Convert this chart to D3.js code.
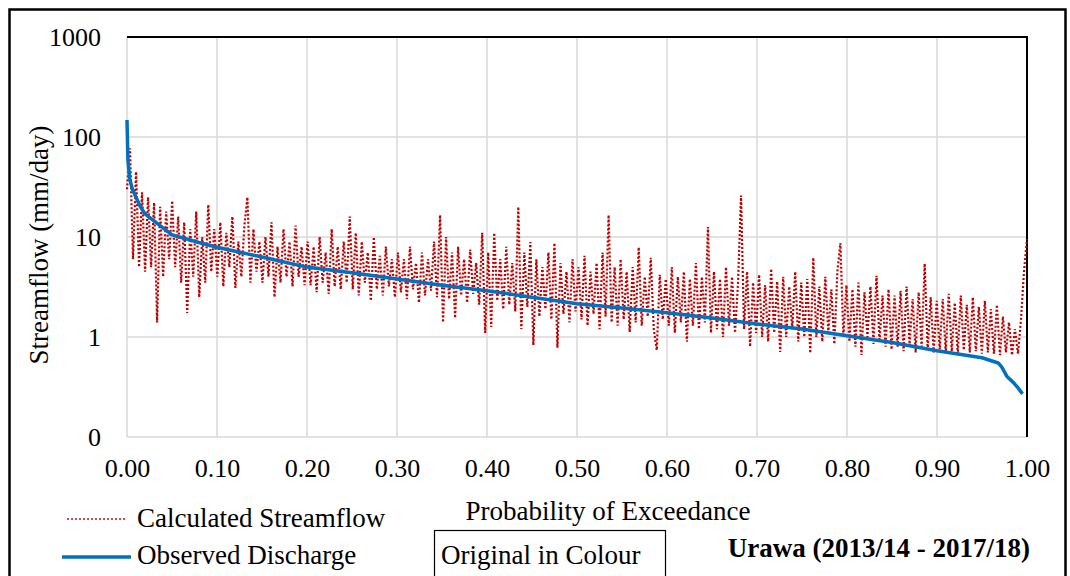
<!DOCTYPE html>
<html>
<head>
<meta charset="utf-8">
<script src="https://cdn.jsdelivr.net/npm/d3@7"></script>
<style>
  html, body { margin: 0; padding: 0; background: #fff; }
  svg text { font-family: "Liberation Serif", "DejaVu Serif", serif; fill: #000; }
</style>
</head>
<body>
<svg id="chart"></svg>
<script>
// Canvas size
const CANVAS_WIDTH = 1070;
const CANVAS_HEIGHT = 576;
const FONT = "Liberation Serif, DejaVu Serif, serif";

// Observed discharge (sorted flow duration curve), read at a few exceedance probabilities
const observedP = [0, 0.001, 0.003, 0.006, 0.01, 0.015, 0.02, 0.03, 0.05, 0.08, 0.1, 0.15, 0.2, 0.25,
  0.3, 0.35, 0.4, 0.45, 0.5, 0.55, 0.6, 0.65, 0.7, 0.75, 0.8, 0.85, 0.9, 0.95, 0.968, 0.972,
  0.978, 0.985, 0.99, 0.995];
const observedQ = [148, 60, 38, 30, 25, 20, 17, 14.5, 10.5, 8.8, 7.9, 6.3, 5.0, 4.4,
  3.8, 3.3, 2.9, 2.5, 2.15, 1.95, 1.75, 1.55, 1.35, 1.2, 1.03, 0.88, 0.73, 0.62, 0.55, 0.5,
  0.4, 0.35, 0.31, 0.27];

// Calculated streamflow, in the order of the observed ranking (300 values, equally spaced)
const calculated = [
  30, 77, 6, 45, 5, 28, 4.5, 25, 5, 22, 1.4, 20, 4, 18, 6,
  23, 5, 16, 3.5, 14, 1.74, 12, 4, 18, 2.5, 10, 3.5, 21, 4.5, 12,
  4, 14, 3.2, 11, 5, 16, 3.1, 9, 4, 13, 25, 3.5, 12, 4.5, 9,
  3.5, 10, 4, 14, 2.5, 8, 3.5, 12, 4, 9, 3.2, 13, 4, 8, 3.3,
  9, 3.3, 8, 2.8, 10, 3.5, 7, 2.7, 12, 3.2, 8, 3, 9, 3.5, 16,
  3, 11, 2.6, 9, 3.5, 7, 2.3, 10, 3, 6.5, 2.6, 8, 3.2, 6, 2.5,
  7, 2.8, 6, 2.4, 8, 3, 5.5, 2.2, 7, 2.6, 6, 2.9, 9, 2.5, 16.6,
  1.4, 10, 2.4, 7, 1.55, 8, 2.6, 6, 2.2, 7.5, 2.7, 5.5, 2.1, 11, 1.1,
  7, 1.26, 11, 2.3, 6, 1.9, 8, 2.1, 5.5, 1.8, 20, 1.2, 7, 2.0, 8.9,
  0.83, 6, 1.6, 5, 1.9, 7, 1.5, 8.7, 0.78, 5.5, 1.7, 4.5, 1.4, 6, 1.8,
  5, 1.5, 6.5, 1.3, 4.5, 1.7, 5.5, 1.2, 7, 1.6, 16.6, 1.4, 5, 1.3, 6,
  1.5, 4.5, 1.12, 5, 1.4, 7.9, 1.3, 4, 1.6, 6.2, 1.2, 0.74, 4.2, 1.5, 3.8,
  1.3, 5, 1.1, 4, 1.4, 4.5, 0.9, 3.8, 1.3, 5.5, 1.2, 4, 1.4, 12.6, 1.1,
  4.5, 1.2, 3.8, 1.0, 5, 1.3, 4, 1.1, 3.5, 26, 1.2, 4.5, 0.8, 3.5, 1.1,
  4.2, 1.0, 3.3, 0.9, 4.8, 1.1, 3.6, 0.71, 4, 1.0, 3.2, 1.2, 4.5, 0.9, 3.5,
  1.0, 3.8, 0.69, 6.2, 1.0, 3.2, 0.9, 4, 1.1, 3, 0.85, 4.5, 8.7, 1.0, 3.3,
  0.9, 3, 0.8, 3.5, 0.66, 2.8, 1.0, 3.2, 0.85, 4.1, 0.9, 2.6, 0.8, 3, 0.75,
  2.6, 0.8, 2.9, 0.72, 3.2, 0.85, 2.4, 0.7, 2.8, 0.8, 5.4, 0.75, 2.5, 0.7, 2.3,
  0.75, 2.4, 0.7, 2.7, 0.72, 2.2, 0.68, 2.6, 0.74, 2.1, 0.7, 2.5, 0.72, 2, 0.68,
  2.3, 0.7, 1.9, 0.68, 2.1, 0.66, 1.6, 0.7, 1.4, 0.66, 1.2, 0.68, 1.5, 4.5, 9.5
];

// Axis ticks
const xTicks = [0, 0.1, 0.2, 0.3, 0.4, 0.5, 0.6, 0.7, 0.8, 0.9, 1.0];
const yTicks = [0.1, 1, 10, 100, 1000];
const yTickLabels = ["0", "1", "10", "100", "1000"];

// Plot area
const plot = { left: 127, right: 1027, top: 37, bottom: 437 };

const svg = d3.select("#chart")
  .attr("width", CANVAS_WIDTH)
  .attr("height", CANVAS_HEIGHT)
  .attr("viewBox", `0 0 ${CANVAS_WIDTH} ${CANVAS_HEIGHT}`);

const x = d3.scaleLinear().domain([0, 1]).range([plot.left, plot.right]);
const y = d3.scaleLog().domain([0.1, 1000]).range([plot.bottom, plot.top]);

// Outer frame of the figure
svg.append("rect")
  .attr("x", 9.5).attr("y", 9.5)
  .attr("width", 1056).attr("height", 620)
  .attr("fill", "none").attr("stroke", "#000").attr("stroke-width", 2.5);

// Gridlines
svg.append("g")
  .selectAll("line.vgrid")
  .data(xTicks)
  .enter()
  .append("line")
  .attr("x1", (d) => x(d)).attr("x2", (d) => x(d))
  .attr("y1", plot.top).attr("y2", plot.bottom)
  .attr("stroke", "#d9d9d9").attr("stroke-width", 1.5);

svg.append("g")
  .selectAll("line.hgrid")
  .data(yTicks)
  .enter()
  .append("line")
  .attr("x1", plot.left).attr("x2", plot.right)
  .attr("y1", (d) => y(d)).attr("y2", (d) => y(d))
  .attr("stroke", "#d9d9d9").attr("stroke-width", 1.5);

// Black border on top and right of the plot area
svg.append("path")
  .attr("d", `M${plot.left},${plot.top}H${plot.right}V${plot.bottom}`)
  .attr("fill", "none").attr("stroke", "#000").attr("stroke-width", 2);

// Tick labels
const yAxis = d3.axisLeft(y).tickValues(yTicks).tickSize(0).tickPadding(26)
  .tickFormat((d, i) => yTickLabels[i]);
const yg = svg.append("g").attr("transform", `translate(${plot.left},0)`).call(yAxis)
  .attr("font-family", FONT);
yg.select(".domain").remove();
yg.selectAll("text").attr("font-size", 26).attr("fill", "#000");

const xAxis = d3.axisBottom(x).tickValues(xTicks).tickSize(0).tickPadding(22)
  .tickFormat(d3.format(".2f"));
const xg = svg.append("g").attr("transform", `translate(0,${plot.bottom})`).call(xAxis)
  .attr("font-family", FONT);
xg.select(".domain").remove();
xg.selectAll("text").attr("font-size", 26).attr("fill", "#000");

// Calculated streamflow (dotted red)
const calcLine = d3.line()
  .x((d, i) => x(i / (calculated.length - 1)))
  .y((d) => y(d));

svg.append("path")
  .datum(calculated)
  .attr("d", calcLine)
  .attr("fill", "none")
  .attr("stroke", "#c00000")
  .attr("stroke-width", 2.2)
  .attr("stroke-dasharray", "2 2");

// Observed discharge (solid blue)
const obsLine = d3.line()
  .x((d, i) => x(observedP[i]))
  .y((d) => y(d));

svg.append("path")
  .datum(observedQ)
  .attr("d", obsLine)
  .attr("fill", "none")
  .attr("stroke", "#0070c0")
  .attr("stroke-width", 3.5)
  .attr("stroke-linejoin", "round");

// Axis titles
svg.append("text")
  .text("Streamflow (mm/day)")
  .attr("transform", "translate(48,245) rotate(-90)")
  .attr("text-anchor", "middle")
  .attr("font-family", FONT)
  .attr("font-size", 27);

svg.append("text")
  .text("Probability of Exceedance")
  .attr("x", 608).attr("y", 520)
  .attr("text-anchor", "middle")
  .attr("font-family", FONT)
  .attr("font-size", 27);

// Legend
svg.append("line")
  .attr("x1", 67).attr("x2", 126).attr("y1", 519).attr("y2", 519)
  .attr("stroke", "#e0474c").attr("stroke-width", 2).attr("stroke-dasharray", "2 2");
svg.append("text").text("Calculated Streamflow")
  .attr("x", 137).attr("y", 527).attr("font-family", FONT).attr("font-size", 27);

svg.append("line")
  .attr("x1", 62).attr("x2", 131).attr("y1", 557).attr("y2", 557)
  .attr("stroke", "#0070c0").attr("stroke-width", 3.5);
svg.append("text").text("Observed Discharge")
  .attr("x", 137).attr("y", 564).attr("font-family", FONT).attr("font-size", 27);

// Note box and station label
svg.append("rect")
  .attr("x", 434.5).attr("y", 530.5).attr("width", 231).attr("height", 80)
  .attr("fill", "none").attr("stroke", "#000").attr("stroke-width", 1.2);
svg.append("text").text("Original in Colour")
  .attr("x", 441).attr("y", 564).attr("font-family", FONT).attr("font-size", 27);

svg.append("text").text("Urawa (2013/14 - 2017/18)")
  .attr("x", 1030).attr("y", 557)
  .attr("text-anchor", "end")
  .attr("font-family", FONT)
  .attr("font-size", 27)
  .attr("font-weight", "bold");
</script>
</body>
</html>
